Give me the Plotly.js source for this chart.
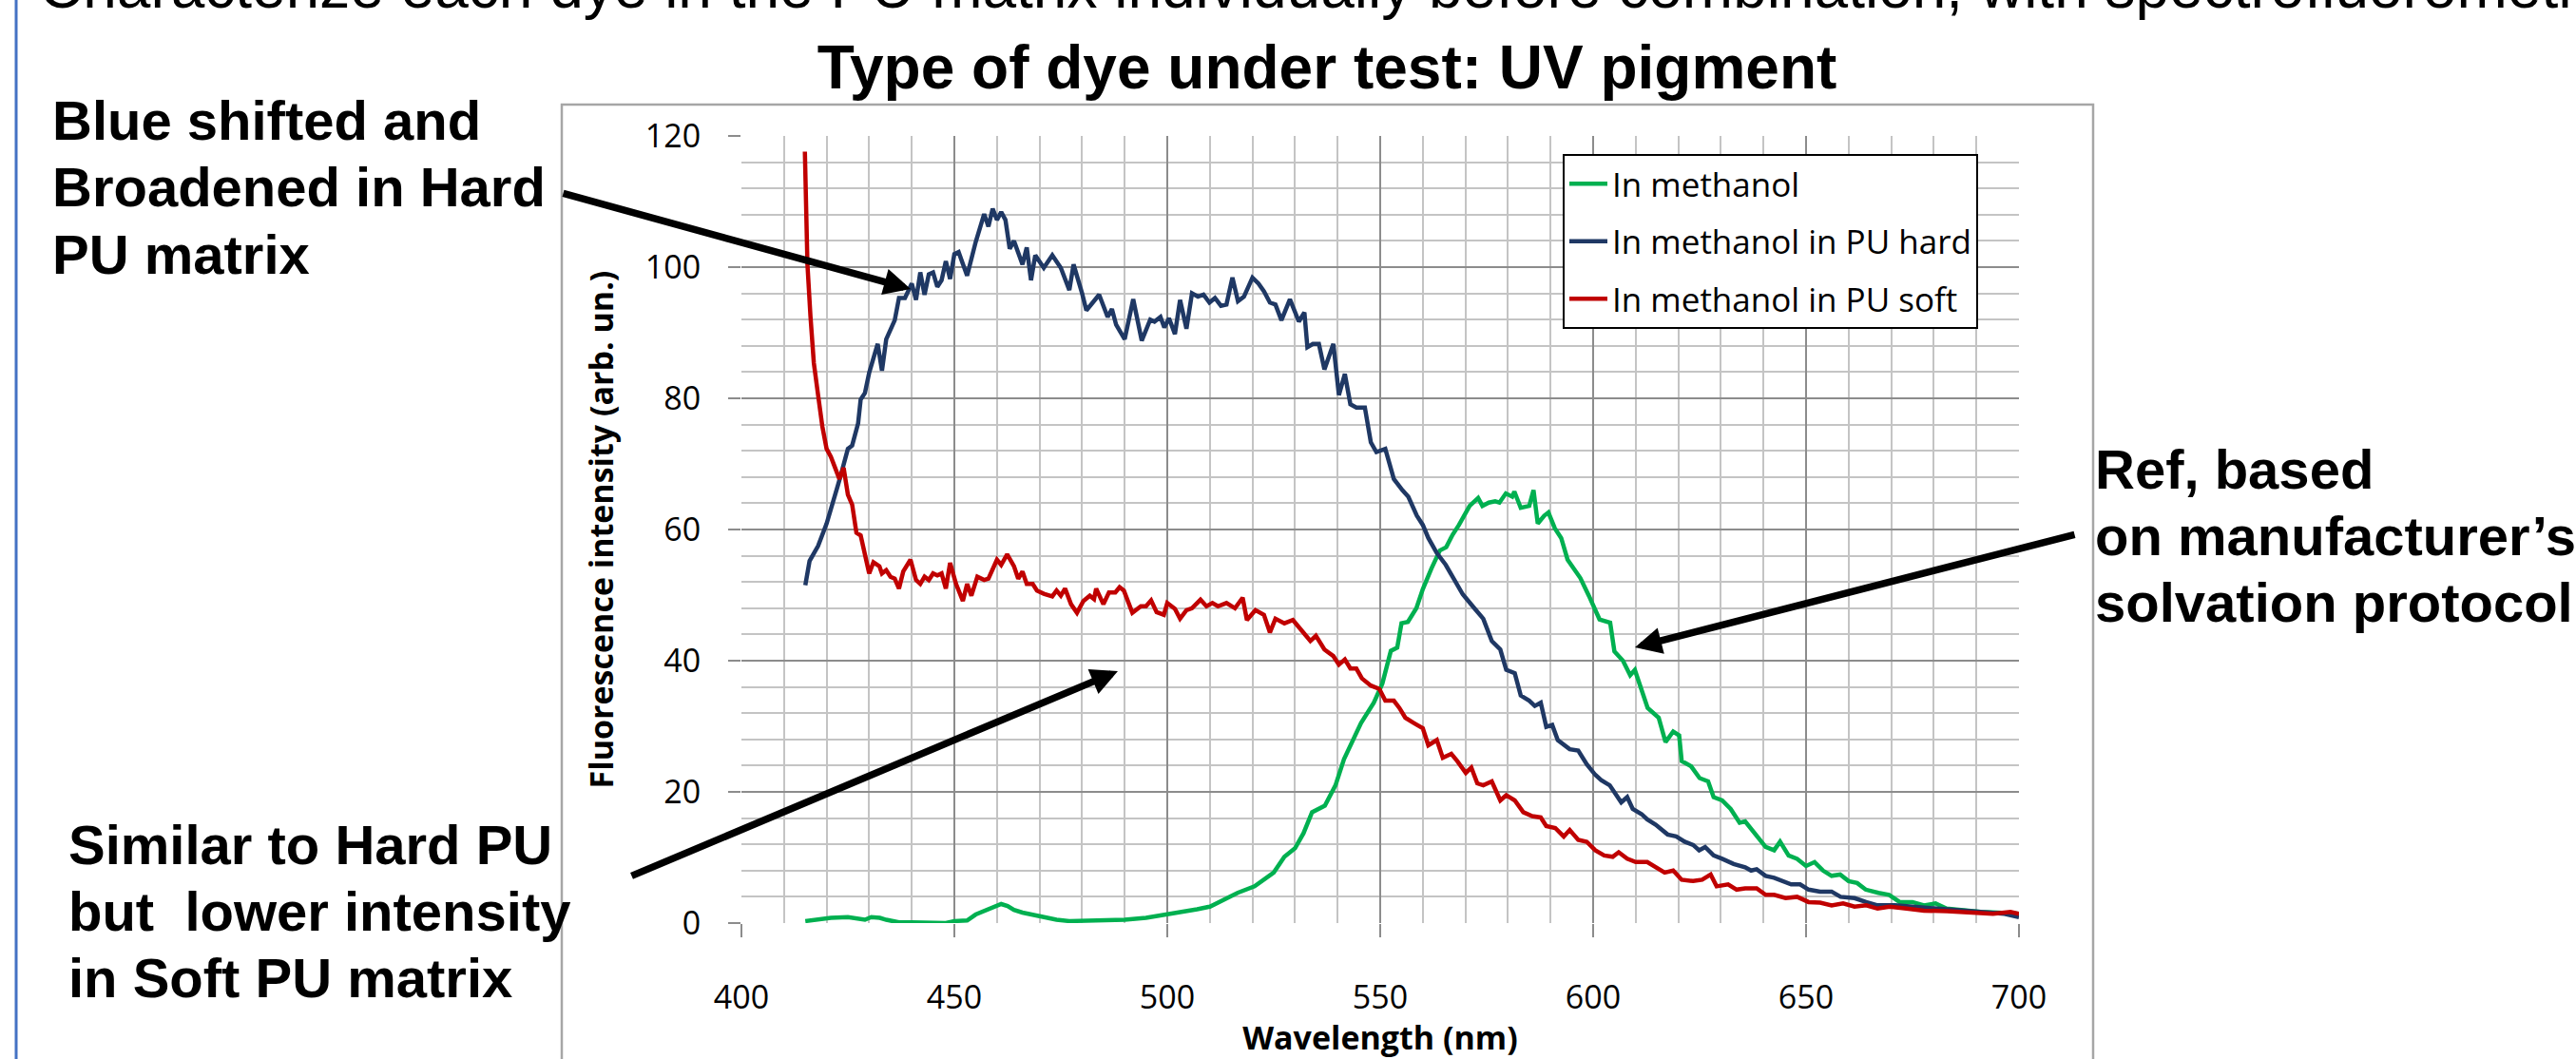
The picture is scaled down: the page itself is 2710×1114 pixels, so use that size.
<!DOCTYPE html>
<html><head><meta charset="utf-8">
<script src="https://cdn.plot.ly/plotly-3.0.1.min.js"></script>
<style>html,body{margin:0;padding:0;background:#fff;overflow:hidden}#chart{width:2710px;height:1114px}</style>
</head><body><div id="chart"></div>
<script>
// ---- data (wavelength nm, fluorescence intensity arb. un.) ----
const wlMethanol = [415,417,419,421,425,429,430.5,432.5,434,437,440,445,448,450,453,455,457,459,461,462.5,464,466,468,471,474,477,481,485,490,495,499,503,505,507,510,513,516.5,520.5,525,527.5,530,532,534,537,539.5,541.5,543.5,545.5,548.5,550.5,552.5,554,555,556.5,558.5,560,562,564,565.5,567,568.5,571,573,574,575.5,577,578,579.5,581,581.5,583,585,586,587,588.5,589.5,591,592.5,594,595,597,599,601.5,604,605,607,608.7,609.8,611.4,612.8,615.4,617,618.8,620.2,620.8,623,625,627,628.3,630.3,632.3,634.4,635.7,637.8,640.5,642.5,643.9,645.9,647.9,650,652,654,656,658,660,662,664,667,669.5,672,675,677.7,680.4,683,687,691,695,700];
const methanol = [0.3,0.5,0.6,0.8,0.9,0.5,0.9,0.8,0.5,0.1,0.1,0.1,0,0.3,0.4,1.3,1.8,2.3,2.9,2.6,2,1.6,1.3,0.9,0.5,0.3,0.4,0.4,0.5,0.8,1.2,1.6,1.9,2.1,2.5,3.5,4.6,5.6,7.7,10.1,11.4,13.7,16.9,17.9,21,25,27.9,30.5,33.6,36.5,41.5,42,45.7,45.9,48,50.9,54,56.8,57.3,59.2,60.7,63.6,64.8,63.6,64.1,64.3,64.1,65.5,65,65.8,63.3,63.6,66,60.9,62.1,62.6,60.2,58.7,55.4,54.5,52.6,49.9,46.3,45.8,41.4,40,37.8,38.6,35.7,32.8,31.3,27.6,29.2,28.6,24.7,23.9,22.1,21.6,19.2,18.7,17.4,15.3,15.5,13.7,11.6,11.1,12.4,10.3,9.8,8.7,9.3,8,7.2,7.4,6.4,6.1,5.1,4.6,4.3,3.2,3.2,2.7,3,2.2,1.9,1.7,1.6,1.4];

const wlHard = [415,416,418,420,423,425,426,427.4,428,429,430,432,433,434,436,437,438.4,440,441,442,443,444,445,446,447,448,449,450,451,453,455,457,458,459,460,461,462,463,464,466,467,468,469,471,473,475,477,478,480,481,484,486,487,488,490,492,494,496,497,498.4,499.3,500.4,501.8,503,504.5,505.8,507.2,508.5,509.9,511.2,512.6,513.9,515.3,516.6,518,520,521.4,522.7,524.1,525.4,526.8,528.8,530.9,532.2,532.9,534.2,535.6,536.9,539,540.3,541.7,543,544.4,546.4,547.8,549.1,551.2,553.2,555.2,556.6,558.6,560,561.3,563.3,565.4,567.4,569.4,572.1,574.2,576.2,578.2,579.6,581.6,583,585,586.3,587.7,589,590.4,591.7,594.5,596.5,598.5,600.5,601.9,603.9,605.3,606.6,608,609.3,611.4,612.7,614.7,616.1,617.5,619.5,621.5,623.5,624.9,626.3,628.3,630.3,633,635.7,637.1,638.4,640.5,642.5,644.5,646.5,648.6,650.6,653.3,656,658.1,661.4,664.1,666.8,670.9,675,680.4,685.8,691.2,696.6,700];
const hard = [51.5,55.2,57.5,60.9,67.5,72.3,72.8,76.2,79.8,80.8,83.9,88.3,84.2,89,91.9,95.3,95.3,97.5,95,99.2,95.8,98.9,99.2,97,98,100.9,98.2,102,102.3,98.7,103.8,108.1,106.2,108.9,107.2,108.4,107.2,102.8,104,100.4,103,98,101.8,99.9,101.8,99.9,96.5,100.4,96,93.4,95.8,92.4,93.6,91.2,89,95.1,88.8,92,91.7,92.4,90.8,92.2,89.8,95,90.6,96,95.5,95.8,94.6,95.3,94.1,94.3,98.4,94.8,95.5,98.4,97.5,96.3,94.6,94.3,91.9,95.1,91.7,93.1,87.8,88.3,88.3,84.4,88.3,80.5,83.7,79.1,78.6,78.6,73.3,71.8,72.3,67.7,66,65,62.1,60.7,58.7,56.4,54.6,52.2,50.1,48,46.4,43,41.7,38.6,38.1,34.7,33.9,33.1,33.6,29.9,30.2,27.9,26.5,26.3,24.2,22.6,21.8,21,19.5,18.4,19.2,17.4,16.6,15.8,15,14.2,13.5,13.2,12.4,11.9,11.1,11.6,10.3,9.8,9,8.5,8,8.2,7.2,6.9,6.4,5.9,5.9,5.1,4.8,4.8,4,3.8,3.2,2.7,2.7,2.5,2.2,1.9,1.7,1.4,0.9];

const wlSoft = [414.9,415.1,415.5,416.2,417,418,419,420,421,422,423,424,425,426,427,428,429,430,431,432.4,433,434,435,436,437,438,439.7,441,442,443,444,445,446,447,448,449,450.4,452,453,454,455.4,457,458,460,461,462.4,464,465,466,467,468.4,469.4,471,473,474,475,476,477.4,478.8,480.3,481.8,482.8,483.3,485,486.3,487.8,488.8,489.8,491.8,493.8,495,496.2,497.5,499.2,500,501.8,503,504.5,505.8,507.8,509.2,510.6,511.9,513.9,515.9,517.7,518.7,520.7,522.7,524.1,525.4,527.5,529.5,531.5,533.6,534.9,536.9,539,540.3,541.7,543,544.4,545.7,547.8,549.8,551.2,553.2,554.5,555.9,557.9,560,561.3,563.3,564.7,566.7,568.1,570.1,571.4,572.8,574.2,576.2,578.2,579.6,581.6,583.6,585.7,587.7,589,591.1,593.1,594.5,596.5,598.5,600.5,602.6,604.6,606,608,610,612.7,614.7,616.8,618.8,620.8,623.5,625.6,627.6,629,631.7,633.7,635.7,638.4,640.5,642.5,645.2,647.9,650.6,653.3,656,658.7,661.4,664.1,666.8,669.6,673.6,677.7,683.1,688.5,693.9,698,700];
const soft = [117.6,110,100.4,92.6,85.4,80.5,75.7,72.3,71.1,69.4,67.7,69.4,65.3,63.8,59.5,59.1,55.9,53.3,55,54.4,53.3,53.8,52.8,52.5,51,53.6,55.4,52.3,51.7,52.8,52.3,53.3,53,53.3,51,54.9,51.7,49.1,51.7,49.9,52.8,52.3,52.5,55.4,54.6,56.2,54.4,52.5,53.6,51.7,51.7,50.7,50.2,49.8,50.7,49.9,51,48.6,47.3,49.1,49.9,49.4,51,48.6,50.4,50.4,51.2,50.7,47.3,48.3,48.3,49.2,47.4,47,48.8,47.9,46.4,47.7,48,49.3,48.3,48.8,48.3,48.8,48,49.6,46.2,47.7,47,44.3,46.4,45.7,46.2,44.6,43,43.8,41.7,40.7,39.4,40.2,38.8,38.8,37.3,36.2,35.7,33.9,33.9,32.8,31.3,30.5,29.7,27.1,27.9,25.2,25.8,24.7,22.9,23.7,21.3,21,21.6,18.7,19.5,18.7,16.9,16.3,16.1,14.8,14.5,13.2,14.2,12.7,12.4,11.1,10.3,10.1,10.8,9.8,9.3,9.3,8.5,7.7,8,6.6,6.4,6.6,7.4,5.6,5.9,5.1,5.3,5.3,4.3,4.3,3.8,4,3.2,3.1,2.7,3,2.5,2.7,2.2,2.5,2.2,1.9,1.8,1.6,1.4,1.7,1.4];

const seriesNames = ['In methanol', 'In methanol in PU hard', 'In methanol in PU soft'];
const xTickVals = [400,450,500,550,600,650,700];
const yTickVals = [0,20,40,60,80,100,120];
const chartTitle = 'Type of dye under test: UV pigment';
const xTitle = 'Wavelength (nm)';
const yTitle = 'Fluorescence intensity (arb. un.)';
const slideText = 'Characterize each dye in the PU matrix individually before combination, with spectrofluorometry';
const noteHard = ['Blue shifted and', 'Broadened in Hard', 'PU matrix'];
const noteSoft = ['Similar to Hard PU', 'but&nbsp; lower intensity', 'in Soft PU matrix'];
const noteRef = ['Ref, based', 'on manufacturer\u2019s', 'solvation protocol'];

// ---- layout geometry (pixels) ----
const W = 2710, H = 1114;
const PL = 780, PR = 2124, PT = 143, PB = 971;
const px = x => (x - PL) / (PR - PL);
const py = y => (PB - y) / (PB - PT);

const colors = ['#00B050', '#1F3864', '#C00000'];
const xs = [wlMethanol, wlHard, wlSoft];
const ys = [methanol, hard, soft];

const traces = seriesNames.map((n, i) => ({
  type: 'scatter', mode: 'lines', name: n, x: xs[i], y: ys[i],
  legendgroup: 'g' + i,
  line: {color: colors[i], width: 4.5}, hoverinfo: 'skip'
}));

const annFont = {family: 'Liberation Sans, Arial, sans-serif', size: 58, color: '#000'};
const annotations = [];
function addLines(lines, x, baselines) {
  lines.forEach((t, i) => {
    annotations.push({
      xref: 'paper', yref: 'paper', x: px(x), y: py(baselines[i] - 20),
      xanchor: 'left', yanchor: 'middle', showarrow: false,
      text: '<b>' + t + '</b>', font: annFont, borderpad: 0
    });
  });
}
addLines(noteHard, 54, [147, 217, 287]);
addLines(noteSoft, 71, [908, 978, 1048]);
addLines(noteRef, 2203, [513, 583, 653]);

annotations.push({
  xref: 'paper', yref: 'paper', x: px(40), y: py(8 - 22),
  xanchor: 'left', yanchor: 'middle', showarrow: false,
  text: slideText, font: {family: 'Liberation Sans, Arial, sans-serif', size: 64, color: '#000'}, borderpad: 0
});

function arrow(tail, tip) {
  annotations.push({
    xref: 'paper', yref: 'paper', x: px(tip[0]), y: py(tip[1]),
    ax: tail[0] - tip[0], ay: tail[1] - tip[1], axref: 'pixel', ayref: 'pixel',
    text: '', showarrow: true, arrowhead: 2, arrowsize: 0.75, arrowwidth: 7.5,
    arrowcolor: '#000', standoff: 0
  });
}
arrow([591, 203], [958, 304]);
arrow([663, 922], [1176, 706]);
arrow([2184, 562], [1720, 681]);

const shapes = [
  {type: 'rect', xref: 'paper', yref: 'paper', x0: px(591), x1: px(2202), y0: py(1150), y1: py(110),
   line: {color: '#a6a6a6', width: 2.5}, fillcolor: 'rgba(0,0,0,0)', layer: 'above'},
  {type: 'line', xref: 'paper', yref: 'paper', x0: px(17), x1: px(17), y0: py(-10), y1: py(1130),
   line: {color: '#4472C4', width: 3}, layer: 'above'}
];

const tickFont = {family: 'Open Sans, sans-serif', size: 34, color: '#000'};
const titleFont = {family: 'Open Sans, sans-serif', size: 34, color: '#000'};

const layout = {
  width: W, height: H,
  margin: {l: PL, r: W - PR, t: PT, b: H - PB, pad: 0},
  paper_bgcolor: '#fff', plot_bgcolor: '#fff',
  showlegend: true,
  title: {
    text: '<b>' + chartTitle + '</b>',
    font: {family: 'Liberation Sans, Arial, sans-serif', size: 64, color: '#000'},
    x: 1396 / W, xanchor: 'center', xref: 'container',
    y: 1 - (93 - 22) / H, yanchor: 'middle', yref: 'container'
  },
  xaxis: {
    range: [400, 700], tickvals: xTickVals, ticktext: xTickVals.map(String),
    ticks: 'outside', ticklen: 14, tickwidth: 2, tickcolor: '#8c8c8c',
    showgrid: true, gridcolor: '#8c8c8c', gridwidth: 2,
    minor: {dtick: 10, tick0: 400, showgrid: true, gridcolor: '#c4c4c4', gridwidth: 2, ticks: ''},
    zeroline: false, showline: false,
    tickfont: tickFont, ticklabelstandoff: 34,
    title: {text: '<b>' + xTitle + '</b>', font: titleFont, standoff: 50},
    automargin: false, fixedrange: true
  },
  yaxis: {
    range: [0, 120], tickvals: yTickVals, ticktext: yTickVals.map(String),
    ticks: 'outside', ticklen: 13, tickwidth: 2, tickcolor: '#8c8c8c',
    showgrid: true, gridcolor: '#8c8c8c', gridwidth: 2,
    minor: {dtick: 4, tick0: 0, showgrid: true, gridcolor: '#c4c4c4', gridwidth: 2, ticks: ''},
    zeroline: false, showline: false,
    tickfont: tickFont, ticklabelstandoff: 22,
    title: {text: '<b>' + yTitle + '</b>', font: titleFont, standoff: 22},
    automargin: false, fixedrange: true
  },
  legend: {
    x: px(1644), y: py(162), xanchor: 'left', yanchor: 'top',
    bgcolor: '#fff', bordercolor: '#000', borderwidth: 2,
    font: {family: 'Open Sans, sans-serif', size: 35, color: '#000'},
    itemwidth: 40, tracegroupgap: 12, traceorder: 'grouped'
  },
  annotations: annotations,
  shapes: shapes
};

Plotly.newPlot('chart', traces, layout, {displayModeBar: false, responsive: false});
</script>
</body></html>
